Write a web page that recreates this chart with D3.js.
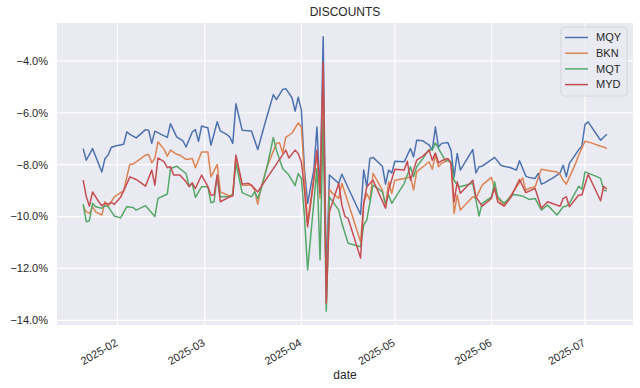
<!DOCTYPE html>
<html>
<head>
<meta charset="utf-8">
<script src="https://cdn.jsdelivr.net/npm/d3@7"></script>
<style>
  body { margin: 0; background: #fff; }
  svg text { font-family: "Liberation Sans", Arial, sans-serif; fill: #262626; }
</style>
</head>
<body>
<svg id="chart" width="640" height="388"></svg>
<script>
// discount series (percent)
var names = ["MQY", "BKN", "MQT", "MYD"];
var colors = ["#4c72b0", "#dd8452", "#55a868", "#c44e52"];

var mqy = [
  ["2025-01-21",-7.38],["2025-01-22",-7.83],["2025-01-24",-7.38],["2025-01-27",-8.28],["2025-01-28",-7.76],
  ["2025-01-29",-7.63],["2025-01-30",-7.34],["2025-01-31",-7.29],["2025-02-03",-7.21],["2025-02-04",-6.74],
  ["2025-02-05",-6.83],["2025-02-07",-6.97],["2025-02-10",-6.65],["2025-02-11",-6.67],["2025-02-12",-7.18],
  ["2025-02-13",-6.71],["2025-02-15",-6.83],["2025-02-17",-6.95],["2025-02-18",-6.42],["2025-02-20",-6.93],
  ["2025-02-22",-7.08],["2025-02-23",-7.32],["2025-02-25",-6.74],["2025-02-26",-6.65],["2025-02-27",-7.10],
  ["2025-02-28",-6.51],["2025-03-01",-6.55],["2025-03-02",-6.58],["2025-03-03",-7.25],["2025-03-05",-6.35],
  ["2025-03-06",-6.70],["2025-03-08",-6.83],["2025-03-09",-6.93],["2025-03-10",-7.18],["2025-03-11",-5.65],
  ["2025-03-13",-6.67],["2025-03-16",-6.70],["2025-03-18",-7.42],["2025-03-20",-6.55],["2025-03-23",-5.30],
  ["2025-03-24",-5.49],["2025-03-26",-5.10],["2025-03-27",-5.07],["2025-03-29",-5.42],["2025-03-30",-5.94],
  ["2025-03-31",-5.40],["2025-04-01",-5.90],["2025-04-02",-8.21],["2025-04-03",-9.49],["2025-04-05",-8.21],
  ["2025-04-06",-6.55],["2025-04-07",-9.10],["2025-04-08",-3.07],["2025-04-09",-12.5],["2025-04-10",-8.40],
  ["2025-04-13",-8.72],["2025-04-14",-8.37],["2025-04-20",-9.92],["2025-04-21",-8.21],["2025-04-22",-8.85],
  ["2025-04-23",-7.76],["2025-04-24",-7.72],["2025-04-27",-8.06],["2025-04-28",-8.75],["2025-04-29",-8.21],
  ["2025-04-30",-8.32],["2025-05-01",-7.87],["2025-05-04",-7.89],["2025-05-06",-7.38],["2025-05-07",-7.70],
  ["2025-05-08",-7.06],["2025-05-10",-7.08],["2025-05-12",-7.25],["2025-05-13",-7.44],["2025-05-14",-6.55],
  ["2025-05-15",-7.32],["2025-05-16",-7.18],["2025-05-18",-7.15],["2025-05-19",-7.44],["2025-05-20",-8.47],
  ["2025-05-21",-7.57],["2025-05-22",-8.21],["2025-05-26",-7.42],["2025-05-27",-8.32],["2025-05-28",-8.08],
  ["2025-05-29",-8.06],["2025-05-31",-7.89],["2025-06-02",-7.72],["2025-06-04",-8.02],["2025-06-05",-8.06],
  ["2025-06-07",-8.11],["2025-06-09",-8.21],["2025-06-10",-7.85],["2025-06-12",-8.44],["2025-06-13",-8.49],
  ["2025-06-15",-8.53],["2025-06-16",-8.34],["2025-06-17",-8.75],["2025-06-18",-8.70],["2025-06-21",-8.49],
  ["2025-06-23",-8.32],["2025-06-24",-8.02],["2025-06-25",-8.47],["2025-06-26",-7.95],["2025-06-29",-7.42],
  ["2025-06-30",-7.29],["2025-07-01",-6.45],["2025-07-02",-6.35],["2025-07-06",-7.06],["2025-07-08",-6.83]
];

var bkn = [
  ["2025-01-21",-9.62],["2025-01-22",-9.82],["2025-01-23",-9.88],["2025-01-24",-9.62],["2025-01-25",-9.82],
  ["2025-01-27",-9.94],["2025-01-28",-9.43],["2025-01-29",-9.62],["2025-01-30",-9.43],["2025-01-31",-9.24],
  ["2025-02-02",-9.08],["2025-02-03",-9.01],["2025-02-04",-8.47],["2025-02-05",-7.98],["2025-02-06",-7.98],
  ["2025-02-10",-7.63],["2025-02-11",-7.61],["2025-02-12",-7.93],["2025-02-13",-7.76],["2025-02-14",-7.12],
  ["2025-02-16",-7.42],["2025-02-17",-7.67],["2025-02-18",-7.44],["2025-02-20",-7.60],["2025-02-21",-7.63],
  ["2025-02-23",-7.80],["2025-02-25",-7.76],["2025-02-26",-8.12],["2025-02-28",-7.51],["2025-03-02",-7.51],
  ["2025-03-03",-8.47],["2025-03-05",-8.00],["2025-03-06",-9.05],["2025-03-09",-9.21],["2025-03-10",-9.13],
  ["2025-03-11",-7.70],["2025-03-13",-8.79],["2025-03-16",-8.79],["2025-03-17",-8.98],["2025-03-18",-9.52],
  ["2025-03-19",-8.92],["2025-03-21",-8.08],["2025-03-24",-7.18],["2025-03-25",-7.16],["2025-03-26",-7.55],
  ["2025-03-27",-6.95],["2025-03-29",-6.78],["2025-03-31",-6.39],["2025-04-01",-6.55],["2025-04-02",-8.50],
  ["2025-04-03",-10.26],["2025-04-05",-8.50],["2025-04-06",-7.57],["2025-04-07",-9.30],["2025-04-08",-4.50],
  ["2025-04-09",-13.30],["2025-04-10",-8.95],["2025-04-11",-9.11],["2025-04-13",-9.30],["2025-04-14",-8.72],
  ["2025-04-20",-10.97],["2025-04-21",-9.49],["2025-04-22",-9.11],["2025-04-23",-9.37],["2025-04-24",-8.34],
  ["2025-04-27",-8.98],["2025-04-28",-9.62],["2025-04-29",-8.66],["2025-04-30",-9.11],["2025-05-01",-8.60],
  ["2025-05-04",-8.53],["2025-05-06",-8.47],["2025-05-07",-8.98],["2025-05-08",-8.28],["2025-05-10",-8.08],
  ["2025-05-12",-7.89],["2025-05-13",-8.18],["2025-05-14",-7.63],["2025-05-15",-8.08],["2025-05-16",-7.95],
  ["2025-05-18",-7.83],["2025-05-19",-7.93],["2025-05-20",-9.88],["2025-05-21",-9.17],["2025-05-22",-9.75],
  ["2025-05-26",-9.24],["2025-05-27",-9.30],["2025-05-29",-8.79],["2025-06-01",-8.49],["2025-06-02",-8.98],
  ["2025-06-03",-9.30],["2025-06-05",-9.56],["2025-06-08",-9.05],["2025-06-11",-8.51],["2025-06-12",-8.98],
  ["2025-06-13",-8.92],["2025-06-15",-8.85],["2025-06-17",-8.18],["2025-06-20",-8.24],["2025-06-22",-8.28],
  ["2025-06-23",-8.38],["2025-06-24",-8.60],["2025-06-25",-8.75],["2025-06-28",-7.95],["2025-06-29",-7.63],
  ["2025-07-01",-7.10],["2025-07-03",-7.16],["2025-07-06",-7.29],["2025-07-07",-7.32],["2025-07-08",-7.38]
];

var mqt = [
  ["2025-01-21",-9.52],["2025-01-22",-10.20],["2025-01-23",-10.16],["2025-01-24",-9.49],["2025-01-25",-9.62],
  ["2025-01-27",-9.68],["2025-01-28",-9.58],["2025-01-29",-9.62],["2025-01-31",-9.98],["2025-02-02",-10.05],
  ["2025-02-04",-9.62],["2025-02-06",-9.65],["2025-02-07",-9.75],["2025-02-10",-9.58],["2025-02-13",-10.00],
  ["2025-02-14",-9.30],["2025-02-17",-9.13],["2025-02-18",-8.15],["2025-02-20",-8.06],["2025-02-23",-8.34],
  ["2025-02-24",-8.83],["2025-02-25",-8.72],["2025-02-26",-9.26],["2025-02-28",-8.85],["2025-03-02",-8.85],
  ["2025-03-03",-9.47],["2025-03-04",-9.43],["2025-03-05",-8.40],["2025-03-06",-9.24],["2025-03-09",-9.24],
  ["2025-03-10",-9.17],["2025-03-11",-7.95],["2025-03-13",-9.08],["2025-03-16",-9.24],["2025-03-17",-9.05],
  ["2025-03-18",-9.30],["2025-03-19",-8.98],["2025-03-21",-8.08],["2025-03-23",-6.95],["2025-03-24",-7.44],
  ["2025-03-26",-8.15],["2025-03-28",-8.40],["2025-03-30",-8.81],["2025-03-31",-8.34],["2025-04-01",-8.53],
  ["2025-04-02",-10.00],["2025-04-03",-12.06],["2025-04-06",-8.15],["2025-04-07",-11.67],["2025-04-08",-6.29],
  ["2025-04-09",-13.65],["2025-04-10",-9.24],["2025-04-13",-9.75],["2025-04-14",-10.26],["2025-04-16",-11.03],
  ["2025-04-20",-11.16],["2025-04-21",-10.33],["2025-04-22",-10.13],["2025-04-24",-8.79],["2025-04-27",-9.05],
  ["2025-04-28",-9.49],["2025-04-29",-9.17],["2025-04-30",-9.49],["2025-05-04",-8.72],["2025-05-06",-8.08],
  ["2025-05-07",-8.47],["2025-05-08",-8.08],["2025-05-10",-7.76],["2025-05-12",-7.42],["2025-05-13",-7.44],
  ["2025-05-14",-7.16],["2025-05-15",-7.38],["2025-05-17",-7.80],["2025-05-19",-7.89],["2025-05-20",-8.60],
  ["2025-05-21",-8.79],["2025-05-22",-8.85],["2025-05-26",-8.72],["2025-05-28",-9.98],["2025-05-29",-9.49],
  ["2025-06-01",-9.24],["2025-06-02",-8.66],["2025-06-03",-9.24],["2025-06-05",-9.49],["2025-06-08",-9.15],
  ["2025-06-11",-9.21],["2025-06-13",-9.34],["2025-06-15",-9.30],["2025-06-17",-9.75],["2025-06-19",-9.56],
  ["2025-06-22",-9.94],["2025-06-24",-9.62],["2025-06-25",-9.60],["2025-06-26",-9.49],["2025-06-29",-8.83],
  ["2025-06-30",-8.95],["2025-07-01",-8.28],["2025-07-05",-8.47],["2025-07-06",-8.53],["2025-07-07",-8.98],
  ["2025-07-08",-9.02]
];

var myd = [
  ["2025-01-21",-8.60],["2025-01-22",-9.24],["2025-01-23",-9.60],["2025-01-24",-9.05],["2025-01-26",-9.43],
  ["2025-01-27",-9.58],["2025-01-28",-9.49],["2025-01-29",-9.52],["2025-01-30",-9.45],["2025-01-31",-9.53],
  ["2025-02-02",-9.26],["2025-02-05",-8.47],["2025-02-07",-8.57],["2025-02-10",-8.83],["2025-02-12",-8.21],
  ["2025-02-13",-8.79],["2025-02-14",-7.74],["2025-02-16",-7.89],["2025-02-17",-8.12],["2025-02-18",-8.08],
  ["2025-02-19",-8.40],["2025-02-21",-8.40],["2025-02-23",-8.66],["2025-02-24",-8.85],["2025-02-25",-8.70],
  ["2025-02-26",-8.92],["2025-02-28",-8.40],["2025-03-02",-8.85],["2025-03-03",-9.17],["2025-03-04",-9.17],
  ["2025-03-05",-8.40],["2025-03-06",-9.43],["2025-03-09",-9.24],["2025-03-10",-9.21],["2025-03-11",-7.63],
  ["2025-03-13",-8.75],["2025-03-15",-8.72],["2025-03-16",-8.79],["2025-03-18",-9.05],["2025-03-27",-7.44],
  ["2025-03-28",-7.74],["2025-03-30",-7.44],["2025-03-31",-7.58],["2025-04-01",-7.90],["2025-04-02",-9.00],
  ["2025-04-03",-10.39],["2025-04-05",-8.60],["2025-04-06",-7.44],["2025-04-07",-9.10],["2025-04-08",-4.05],
  ["2025-04-09",-13.34],["2025-04-10",-9.82],["2025-04-13",-8.72],["2025-04-14",-9.56],["2025-04-15",-10.00],
  ["2025-04-16",-10.07],["2025-04-20",-11.60],["2025-04-21",-9.49],["2025-04-22",-8.85],["2025-04-23",-8.72],
  ["2025-04-24",-8.60],["2025-04-28",-9.68],["2025-04-29",-8.98],["2025-05-01",-8.18],["2025-05-04",-8.21],
  ["2025-05-05",-7.87],["2025-05-06",-8.60],["2025-05-07",-8.21],["2025-05-08",-7.83],["2025-05-10",-7.67],
  ["2025-05-12",-7.44],["2025-05-13",-7.83],["2025-05-14",-7.55],["2025-05-15",-7.93],["2025-05-16",-7.85],
  ["2025-05-18",-7.76],["2025-05-19",-7.93],["2025-05-20",-9.43],["2025-05-21",-8.66],["2025-05-22",-9.10],
  ["2025-05-26",-8.60],["2025-05-27",-9.24],["2025-05-29",-9.60],["2025-06-01",-9.30],["2025-06-02",-8.88],
  ["2025-06-03",-9.43],["2025-06-05",-9.60],["2025-06-07",-9.30],["2025-06-10",-8.57],["2025-06-12",-9.08],
  ["2025-06-15",-8.92],["2025-06-17",-9.68],["2025-06-19",-9.43],["2025-06-23",-9.60],["2025-06-24",-9.30],
  ["2025-06-25",-9.24],["2025-06-26",-9.62],["2025-06-29",-9.17],["2025-06-30",-9.17],["2025-07-02",-8.37],
  ["2025-07-06",-9.39],["2025-07-07",-8.83],["2025-07-08",-8.95]
];

var title = "DISCOUNTS";
var xLabel = "date";

var svg = d3.select("#chart");
var margin = {top: 23, right: 7, bottom: 63, left: 57},
    W = 640, H = 388;

var parse = d3.timeParse("%Y-%m-%d");
var series = [mqy, bkn, mqt, myd].map(function (s, i) {
    return {name: names[i], color: colors[i],
        values: s.map(function (p) { return {date: parse(p[0]), v: p[1]}; })};
});
var flat = d3.merge(series.map(function (s) { return s.values; }));

// matplotlib-like 5% margins around the data
var xe = d3.extent(flat, function (d) { return d.date; });
var xp = (xe[1] - xe[0]) * 0.05;
var ye = d3.extent(flat, function (d) { return d.v; });
var yp = (ye[1] - ye[0]) * 0.05;

var x = d3.scaleTime()
    .domain([new Date(+xe[0] - xp), new Date(+xe[1] + xp)])
    .range([margin.left, W - margin.right]);
var y = d3.scaleLinear()
    .domain([ye[0] - yp, ye[1] + yp])
    .range([H - margin.bottom, margin.top]);

svg.append("rect")
    .attr("x", margin.left).attr("y", margin.top)
    .attr("width", W - margin.left - margin.right)
    .attr("height", H - margin.top - margin.bottom)
    .attr("fill", "#eaeaf2");

var xTicks = x.ticks(d3.timeMonth.every(1));
var yTicks = y.ticks(6);

var grid = svg.append("g").attr("stroke", "#fff").attr("stroke-width", 1.2);
grid.selectAll(".gx").data(xTicks).enter().append("line")
    .attr("x1", function (d) { return x(d); }).attr("x2", function (d) { return x(d); })
    .attr("y1", margin.top).attr("y2", H - margin.bottom);
grid.selectAll(".gy").data(yTicks).enter().append("line")
    .attr("x1", margin.left).attr("x2", W - margin.right)
    .attr("y1", function (d) { return y(d); }).attr("y2", function (d) { return y(d); });

var fmtY = d3.format(".1f");
svg.append("g").selectAll("text").data(yTicks).enter().append("text")
    .attr("x", margin.left - 9)
    .attr("y", function (d) { return y(d); })
    .attr("dy", "0.35em")
    .attr("text-anchor", "end")
    .attr("font-size", 11)
    .text(function (d) { return fmtY(d) + "%"; });

var fmtX = d3.timeFormat("%Y-%m");
svg.append("g").selectAll("text").data(xTicks).enter().append("text")
    .attr("transform", function (d) { return "translate(" + (x(d) + 1) + "," + (H - margin.bottom + 20) + ") rotate(-30)"; })
    .attr("text-anchor", "end")
    .attr("font-size", 11)
    .text(fmtX);

var line = d3.line()
    .x(function (d) { return x(d.date); })
    .y(function (d) { return y(d.v); });

svg.append("g").selectAll("path").data(series).enter().append("path")
    .attr("d", function (s) { return line(s.values); })
    .attr("fill", "none")
    .attr("stroke", function (s) { return s.color; })
    .attr("stroke-width", 1.5)
    .attr("stroke-linejoin", "round");

svg.append("text")
    .attr("x", (margin.left + W - margin.right) / 2)
    .attr("y", 16)
    .attr("text-anchor", "middle")
    .attr("font-size", 12)
    .text(title);

svg.append("text")
    .attr("x", (margin.left + W - margin.right) / 2)
    .attr("y", 379)
    .attr("text-anchor", "middle")
    .attr("font-size", 12)
    .text(xLabel);

// legend, upper right
var lg = svg.append("g").attr("transform", "translate(561,27)");
lg.append("rect")
    .attr("width", 66).attr("height", 69).attr("rx", 3)
    .attr("fill", "#eaeaf2").attr("fill-opacity", 0.8)
    .attr("stroke", "#cfcfd6").attr("stroke-width", 0.8);
var item = lg.selectAll(".it").data(series).enter().append("g")
    .attr("transform", function (d, i) { return "translate(0," + (10.5 + i * 15.7) + ")"; });
item.append("line")
    .attr("x1", 4).attr("x2", 27)
    .attr("stroke", function (d) { return d.color; })
    .attr("stroke-width", 1.5);
item.append("text")
    .attr("x", 35).attr("dy", "0.35em")
    .attr("font-size", 11)
    .text(function (d) { return d.name; });
</script>
</body>
</html>
